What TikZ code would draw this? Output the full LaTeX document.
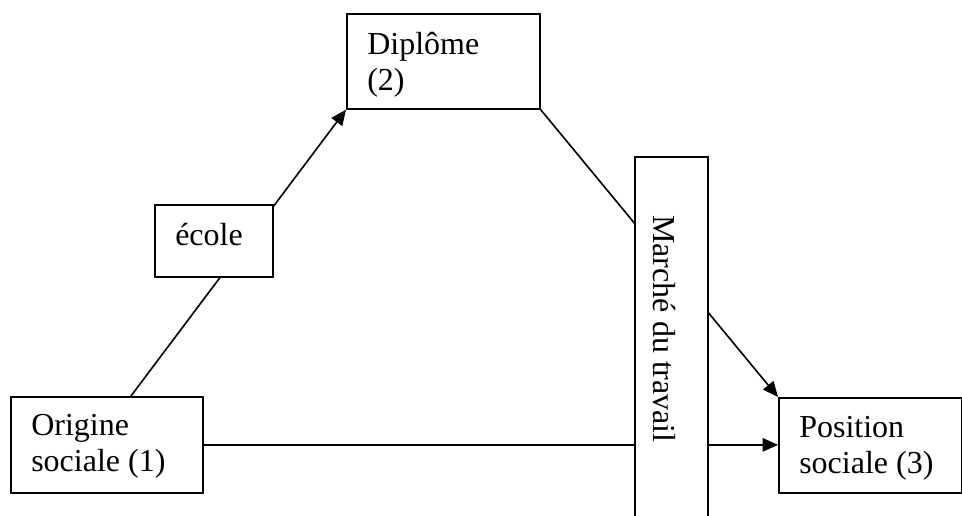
\documentclass[tikz,border=0pt]{standalone}
\usepackage{fontspec}
\setmainfont{Liberation Serif}
\usetikzlibrary{arrows.meta,backgrounds}
\begin{document}
\begin{tikzpicture}[x=0.75pt,y=-0.75pt,
  box/.style={draw,fill=white,line width=1.3pt,inner sep=0pt,anchor=north west},
  lbl/.style={inner sep=0pt,anchor=base west,font=\fontsize{24pt}{27.5pt}\selectfont},
  conn/.style={line width=1.2pt},
  arr/.style={conn,-{Triangle[length=11.5pt,width=10pt]}}]
\clip (0,0) rectangle (962,515);
% boxes
\node[box,minimum width=192*0.75pt,minimum height=96*0.75pt] (orig) at (10,396) {};
\node[box,minimum width=118*0.75pt,minimum height=72*0.75pt] (ecole) at (154,204) {};
\node[box,minimum width=193*0.75pt,minimum height=95*0.75pt] (dip) at (346,13) {};
\node[box,minimum width=73*0.75pt,minimum height=400*0.75pt] (marche) at (634,156) {};
\node[box,minimum width=183*0.75pt,minimum height=95*0.75pt] (pos) at (778,397) {};
% texts
\node[lbl] (t1a) at (31,435) {Origine};
\node[lbl] (t1b) at (31,471) {sociale (1)};
\node[lbl] (te) at (175,245) {école};
\node[lbl] (t2a) at (367,54) {Diplôme};
\node[lbl] (t2b) at (367,90) {(2)};
\node[lbl] (t3a) at (799,437) {Position};
\node[lbl] (t3b) at (799,473) {sociale (3)};
\node[lbl,rotate=-90] (tm) at (653,215) {Marché du travail};
% connectors
\coordinate (s1) at (131,396);
\begin{scope}[on background layer]
\fill[white] (0,0) rectangle (962,515);
\draw[arr] (s1) -- (dip.south west);
\draw[arr] (dip.south east) -- (pos.north west);
\draw[arr] (orig.east) -- (orig.east -| pos.west);
\end{scope}
\end{tikzpicture}
\end{document}
